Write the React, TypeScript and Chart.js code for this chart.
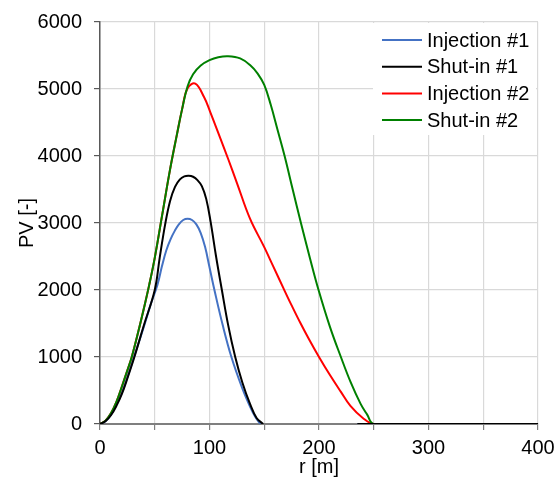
import React, { useEffect, useRef } from 'react';
import { Chart, registerables } from 'chart.js';

Chart.register(...registerables);

const SERIES_LABELS = ['Injection #1', 'Shut-in #1', 'Injection #2', 'Shut-in #2'];
const SERIES_COLORS = ['#4472C4', '#000000', '#FF0000', '#008000'];

// Injection #1
const inj1R = [0, 5, 10, 15, 20, 25, 31, 40, 46, 52.5, 56.5, 60.5, 64.5, 68.5, 72, 76, 80, 84, 88, 92, 96, 100, 104.5, 112, 120, 130, 137, 142, 146.5, 190, 235, 250, 300, 350, 400];
const inj1PV: (number | null)[] = [0, 40, 140, 290, 470, 700, 1000, 1450, 1770, 2080, 2350, 2590, 2760, 2890, 2980, 3045, 3064, 3045, 2980, 2850, 2640, 2340, 2000, 1480, 1000, 530, 260, 100, 0, null, 0, 0, 0, 0, 0];

// Shut-in #1
const shut1R = [0, 5, 10, 15, 20, 25, 31.4, 40, 50, 54.5, 59.5, 64, 68.5, 73, 77, 81, 85, 89, 93, 97, 101, 106, 111.3, 117, 123.5, 130, 137, 143, 149, 190, 235, 250, 300, 350, 400];
const shut1PV: (number | null)[] = [0, 40, 130, 270, 450, 680, 1000, 1470, 2000, 2480, 2980, 3330, 3540, 3650, 3695, 3705, 3690, 3640, 3550, 3360, 3020, 2500, 2000, 1480, 1000, 620, 300, 90, 0, null, 0, 0, 0, 0, 0];

// Injection #2
const inj2R = [0, 5, 10, 15, 20, 25, 29, 35, 40, 45, 50, 57, 64, 70, 75, 80, 87, 95, 100.6, 110, 117.4, 125, 137, 150, 158, 167.7, 175, 182.9, 191, 200, 210, 220, 228.7, 240, 250, 300, 350, 400];
const inj2PV = [0, 50, 160, 330, 560, 800, 1000, 1380, 1720, 2080, 2480, 3140, 3800, 4300, 4700, 5010, 5080, 4880, 4660, 4260, 3940, 3600, 3064, 2640, 2360, 2020, 1770, 1510, 1260, 1000, 730, 480, 270, 90, 0, 0, 0, 0];

// Shut-in #2
const shut2R = [0, 5, 10, 15, 20, 25, 29, 35, 40, 45, 50, 57, 64, 70, 75, 80, 85, 92, 100, 108, 117, 128, 137, 144, 150, 156, 162, 168.6, 176, 183.5, 191.5, 199.6, 210, 220, 229, 238, 244, 250, 300, 350, 400];
const shut2PV = [0, 50, 160, 330, 560, 800, 1000, 1380, 1720, 2080, 2480, 3140, 3800, 4300, 4700, 5040, 5220, 5350, 5430, 5475, 5490, 5457, 5358, 5230, 5060, 4760, 4400, 4000, 3500, 3000, 2490, 2000, 1450, 1000, 620, 300, 140, 0, 0, 0, 0];

const X_MIN = 0;
const X_MAX = 400;
const X_STEP = 50;
const X_LABEL_STEP = 100;
const Y_MIN = 0;
const Y_MAX = 6000;
const Y_STEP = 1000;
const X_TITLE = 'r [m]';
const Y_TITLE = 'PV [-]';

const FONT = 'Liberation Sans, Arial, sans-serif';
const FS = 20;

function toPoints(xs: number[], ys: (number | null)[]) {
  return xs.map((x, i) => ({ x, y: ys[i] }));
}

const legendPlugin = {
  id: 'insideLegend',
  beforeDatasetsDraw(chart: any) {
    const { ctx, chartArea } = chart;
    const boxLeft = chartArea.right - 165;
    const boxTop = chartArea.top + 1;
    const boxW = 163;
    const boxH = 112;
    ctx.save();
    ctx.fillStyle = '#ffffff';
    ctx.fillRect(boxLeft, boxTop, boxW, boxH);
    ctx.font = `${FS}px ${FONT}`;
    ctx.textBaseline = 'middle';
    ctx.textAlign = 'left';
    chart.data.datasets.forEach((ds: any, i: number) => {
      const y = chartArea.top + 18 + i * 26.7;
      ctx.strokeStyle = ds.borderColor;
      ctx.lineWidth = 2;
      ctx.beginPath();
      ctx.moveTo(boxLeft + 9, y);
      ctx.lineTo(boxLeft + 49, y);
      ctx.stroke();
      ctx.fillStyle = '#000';
      ctx.fillText(ds.label, boxLeft + 54, y + 1);
    });
    ctx.restore();
  },
};

export default function App() {
  const ref = useRef<HTMLCanvasElement | null>(null);

  useEffect(() => {
    document.body.style.margin = '0';
    const canvas = ref.current;
    if (!canvas) return;
    const xsList = [inj1R, shut1R, inj2R, shut2R];
    const ysList = [inj1PV, shut1PV, inj2PV, shut2PV];
    const orders = [3, 0, 2, 1];
    const chart = new Chart(canvas, {
      type: 'line',
      data: {
        datasets: SERIES_LABELS.map((label, i) => ({
          label,
          data: toPoints(xsList[i], ysList[i]),
          borderColor: SERIES_COLORS[i],
          backgroundColor: SERIES_COLORS[i],
          borderWidth: 2,
          pointRadius: 0,
          tension: 0.4,
          fill: false,
          order: orders[i],
        })),
      },
      options: {
        responsive: false,
        animation: false,
        layout: { padding: { top: 22, right: 18, left: 0, bottom: 0 } },
        plugins: {
          legend: { display: false },
          tooltip: { enabled: false },
        },
        scales: {
          x: {
            type: 'linear',
            min: X_MIN,
            max: X_MAX,
            afterFit: (s: any) => { s.height = 63; s.paddingLeft = 0; s.paddingRight = 0; },
            ticks: {
              stepSize: X_STEP,
              color: '#000',
              font: { family: FONT, size: FS },
              padding: 6,
              maxRotation: 0,
              autoSkip: false,
              callback: (v: any) => (Number(v) % X_LABEL_STEP === 0 ? String(v) : ''),
            },
            grid: { color: '#d9d9d9', tickColor: '#808080', tickLength: 6, lineWidth: 1.2 },
            border: { color: '#7f7f7f', width: 2 },
            title: { display: true, text: X_TITLE, color: '#000', font: { family: FONT, size: FS }, padding: { top: 0, bottom: 8 } },
          },
          y: {
            type: 'linear',
            min: Y_MIN,
            max: Y_MAX,
            afterFit: (s: any) => { s.width = 100; s.paddingTop = 0; s.paddingBottom = 0; },
            ticks: {
              stepSize: Y_STEP,
              color: '#000',
              font: { family: FONT, size: FS },
              padding: 12,
              callback: (v: any) => String(v),
            },
            grid: { color: '#d9d9d9', tickColor: '#595959', tickLength: 6, lineWidth: 1.2 },
            border: { color: '#595959', width: 1.5 },
            title: { display: true, text: Y_TITLE, color: '#000', font: { family: FONT, size: FS }, padding: { top: 15, bottom: 0 } },
          },
        },
      },
      plugins: [legendPlugin],
    });
    return () => chart.destroy();
  }, []);

  return (
    <div style={{ width: 556, height: 487, background: '#fff' }}>
      <canvas ref={ref} width={556} height={487} style={{ display: 'block' }} />
    </div>
  );
}
